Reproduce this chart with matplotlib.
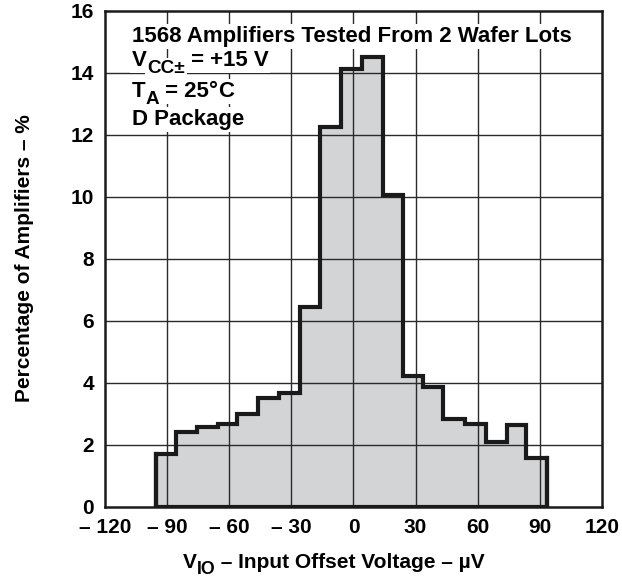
import matplotlib.pyplot as plt
import matplotlib.transforms as mtransforms
import numpy as np

plt.rcParams["font.family"] = ["Liberation Sans", "DejaVu Sans"]
plt.rcParams["font.weight"] = "bold"

# bin edges in uV and percentage per bin
bin_edges = [-95.5, -85.7, -75.7, -65.5, -56.3, -46.1, -36.0, -25.8, -16.2, -6.2,
             4.0, 14.1, 23.9, 33.4, 43.4, 53.8, 63.8, 74.0, 83.3, 93.3]
percentages = [1.70, 2.41, 2.57, 2.68, 3.00, 3.49, 3.68, 6.45, 12.25, 14.10,
               14.50, 10.05, 4.20, 3.85, 2.83, 2.66, 2.10, 2.62, 1.56]

x_ticks = [-120, -90, -60, -30, 0, 30, 60, 90, 120]
x_tick_labels = ["\u2013 120", "\u2013 90", "\u2013 60", "\u2013 30", "0", "30", "60", "90", "120"]
y_ticks = [0, 2, 4, 6, 8, 10, 12, 14, 16]

# each note line is a list of (text, kind) runs; kind is "n", "sub" or "sup"
notes = [
    [("1568 Amplifiers Tested From 2 Wafer Lots", "n")],
    [("V", "n"), ("CC\u00b1", "sub"), (" = +15 V", "n")],
    [("T", "n"), ("A", "sub"), (" = 25", "n"), ("\u00b0", "sup"), ("C", "n")],
    [("D Package", "n")],
]
note_y = [15.0, 14.2, 13.2, 12.3]
x_label_runs = [("V", "n"), ("IO", "sub"), (" \u2013 Input Offset Voltage \u2013 \u00b5V", "n")]

NOTE_SIZE = 16
LABEL_SIZE = 15
TICK_SIZE = 15


def draw_runs(fig, transform, x, y, runs, size, ha="left", boxed=False):
    """Draw text runs side by side, with sub/superscripts kept near full size."""
    renderer = fig.canvas.get_renderer()
    shifts = {"n": (1.0, 0.0), "sub": (0.85, -0.3), "sup": (1.0, 0.02)}
    texts = []
    widths = []
    for text, kind in runs:
        scale, dy = shifts[kind]
        if boxed:
            # white patch behind the run, below every run's glyphs
            box = fig.text(x, y, text, transform=transform, fontsize=size * scale,
                           fontweight="bold", va="baseline", ha="left", zorder=4.5,
                           color=(0, 0, 0, 0))
            box.set_bbox(dict(facecolor="white", edgecolor="none", pad=1.5))
            texts.append((box, dy))
            widths.append(0.0)
        t = fig.text(x, y, text, transform=transform, fontsize=size * scale,
                     fontweight="bold", va="baseline", ha="left", zorder=5)
        texts.append((t, dy))
        widths.append(t.get_window_extent(renderer).width * 72 / fig.dpi)
    start = -sum(widths) / 2 if ha == "center" else 0.0
    offset = start
    for (t, dy), w in zip(texts, widths):
        t.set_transform(mtransforms.offset_copy(transform, fig=fig, x=offset,
                                                y=dy * size, units="points"))
        offset += w


fig = plt.figure(figsize=(6.22, 5.81), dpi=100)
ax = fig.add_axes([0.1688, 0.1279, 0.7990, 0.8540])

ax.stairs(percentages, bin_edges, baseline=0, fill=True, color="#d3d4d6", zorder=1)
for xt in x_ticks[1:-1]:
    ax.axvline(xt, color="#2a2a2a", lw=1.0, zorder=2)
for yt in y_ticks[1:-1]:
    ax.axhline(yt, color="#2a2a2a", lw=1.0, zorder=2)
ax.stairs(percentages, bin_edges, baseline=0, fill=False, color="#1a1a1a", lw=3, zorder=3)
ax.plot([bin_edges[0], bin_edges[-1]], [0, 0], color="#1a1a1a", lw=3, zorder=3,
        solid_capstyle="projecting")
ax.plot([bin_edges[0], bin_edges[0]], [0, percentages[0]], color="#1a1a1a", lw=3, zorder=3)
ax.plot([bin_edges[-1], bin_edges[-1]], [0, percentages[-1]], color="#1a1a1a", lw=3, zorder=3)

ax.set_xlim(-120, 120)
ax.set_ylim(0, 16)
ax.set_xticks(x_ticks)
ax.set_xticklabels(x_tick_labels)
ax.set_yticks(y_ticks)
ax.tick_params(length=0, labelsize=TICK_SIZE)
ax.tick_params(axis="x", pad=8)
ax.tick_params(axis="y", pad=8)
for spine in ax.spines.values():
    spine.set_linewidth(1.8)
    spine.set_color("#1a1a1a")
    spine.set_zorder(4)

for runs, yv in zip(notes, note_y):
    draw_runs(fig, ax.transData, -107, yv, runs, NOTE_SIZE, boxed=True)

draw_runs(fig, fig.transFigure, 0.537, 0.022, x_label_runs, LABEL_SIZE, ha="center")
ax.set_ylabel("Percentage of Amplifiers \u2013 %", fontsize=LABEL_SIZE, fontweight="bold",
              labelpad=26)

fig.savefig("out.png", dpi=100)
